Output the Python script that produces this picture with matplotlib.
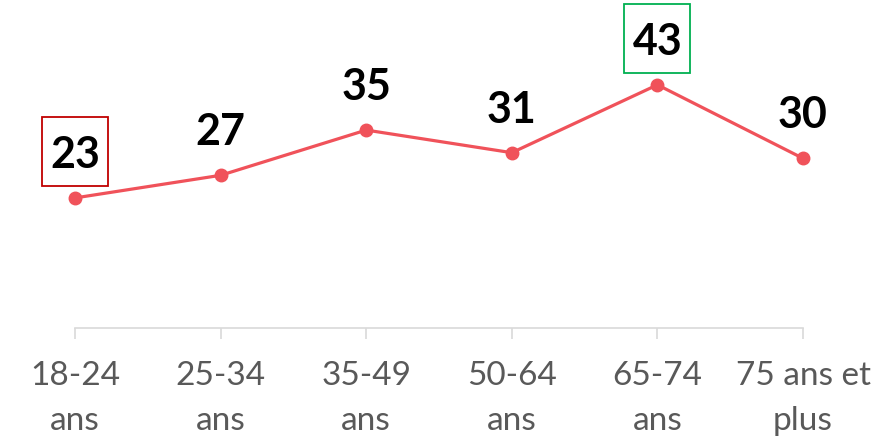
import matplotlib
matplotlib.use("Agg")
import matplotlib.pyplot as plt
from matplotlib.patches import Rectangle
from matplotlib.transforms import ScaledTranslation

categories = ["18-24\nans", "25-34\nans", "35-49\nans", "50-64\nans", "65-74\nans", "75 ans et\nplus"]
values = [23, 27, 35, 31, 43, 30]

line_color = "#F0525A"
axis_color = "#D9D9D9"
label_gray = "#595959"

fig = plt.figure(figsize=(8.93, 4.37), dpi=100)
ax = fig.add_axes([75 / 893, 109 / 437, 728 / 893, 328 / 437])

x = list(range(len(values)))
ax.plot(x, values, color=line_color, linewidth=2.3, marker="o", markersize=9,
        solid_capstyle="round", clip_on=False, zorder=3)

for i, v in enumerate(values):
    ax.annotate(str(v), (i, v), xytext=(0, 21.6), textcoords="offset points",
                ha="center", va="baseline", fontsize=31, fontweight="bold",
                family="Lato", color="black", annotation_clip=False, zorder=5)

# boxes around the min and max labels (sizes in inches, centred above the point)
lo = values.index(min(values))
hi = values.index(max(values))
for i, col in [(lo, "#C00000"), (hi, "#00B050")]:
    tr = fig.dpi_scale_trans + ScaledTranslation(i, values[i], ax.transData)
    ax.add_patch(Rectangle((-0.33, 0.46 - 0.345), 0.66, 0.69, transform=tr,
                           facecolor="none", edgecolor=col, linewidth=1.3,
                           clip_on=False, zorder=4))

ax.set_xlim(0, len(values) - 1)
ax.set_ylim(0, 58)
ax.set_xticks(x)
ax.set_xticklabels(categories, fontsize=24, color=label_gray, family="Lato",
                   linespacing=1.6)
ax.tick_params(axis="x", length=8, width=1.2, color=axis_color, pad=16)
ax.set_yticks([])

for s in ["top", "right", "left"]:
    ax.spines[s].set_visible(False)
ax.spines["bottom"].set_color(axis_color)
ax.spines["bottom"].set_linewidth(1.2)

fig.savefig("out.png", dpi=100, facecolor="white")
